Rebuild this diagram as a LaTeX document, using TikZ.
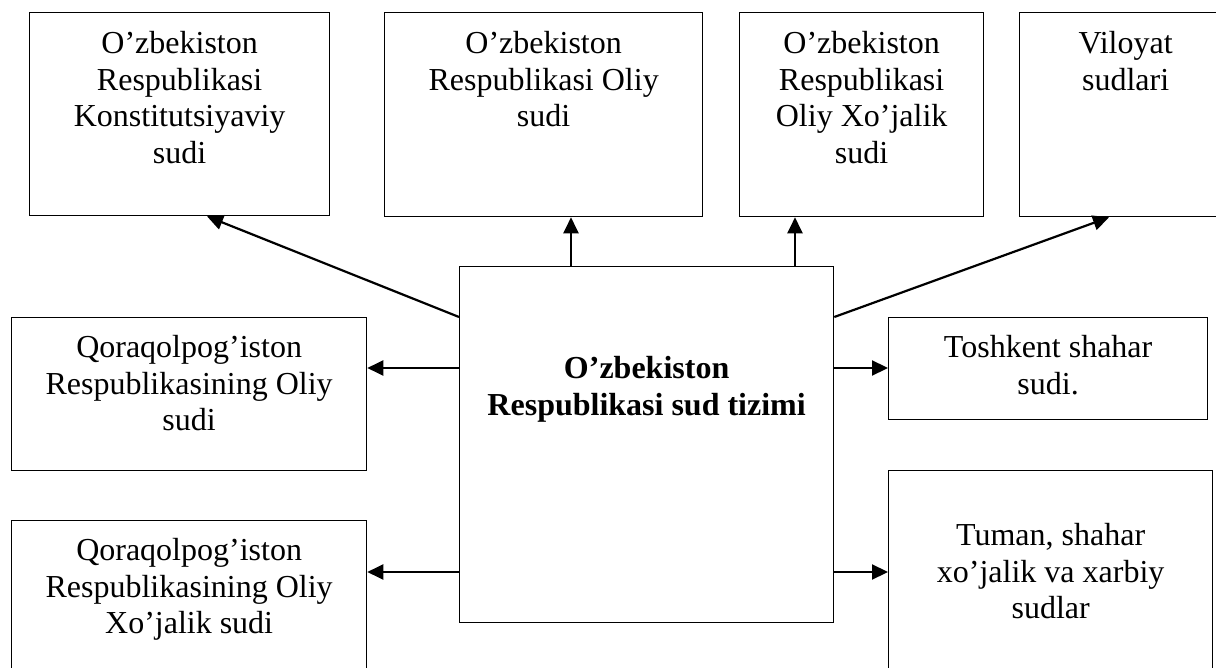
\documentclass[tikz,border=0pt]{standalone}
\usepackage{fontspec}
\setmainfont{Liberation Serif}
\usetikzlibrary{arrows.meta,calc}

\begin{document}
\begin{tikzpicture}[x=1pt,y=-1pt,
    box/.style={draw,line width=1.3pt,rectangle,anchor=north west,inner sep=0pt},
    txt/.style={anchor=north,align=center,inner sep=0pt,font=\fontsize{32}{36.7}\selectfont},
    arr/.style={line width=2.2pt,-{Triangle[length=16pt,width=15pt]}}]
    \useasboundingbox (0,0) rectangle (1216,668);
    % boxes
    \node[box,minimum width=300pt,minimum height=203pt] (kons) at (29,12) {};
    \node[box,minimum width=318pt,minimum height=204pt] (oliy) at (384,12) {};
    \node[box,minimum width=244pt,minimum height=204pt] (xoj) at (739,12) {};
    \node[box,minimum width=212pt,minimum height=204pt] (vil) at (1019,12) {};
    \node[box,minimum width=374pt,minimum height=356pt] (main) at (459,266) {};
    \node[box,minimum width=355pt,minimum height=153pt] (qq1) at (11,317) {};
    \node[box,minimum width=355pt,minimum height=200pt] (qq2) at (11,520) {};
    \node[box,minimum width=319pt,minimum height=102pt] (tosh) at (888,317) {};
    \node[box,minimum width=324pt,minimum height=250pt] (tuman) at (888,470) {};
    % texts
    \node[txt] (kons-t) at ([yshift=-19pt]kons.north) {O’zbekiston\\Respublikasi\\Konstitutsiyaviy\\sudi};
    \node[txt] (oliy-t) at ([yshift=-19pt]oliy.north) {O’zbekiston\\Respublikasi Oliy\\sudi};
    \node[txt] (xoj-t) at ([yshift=-19pt]xoj.north) {O’zbekiston\\Respublikasi\\Oliy Xo’jalik\\sudi};
    \node[txt] (vil-t) at ([yshift=-19pt]vil.north) {Viloyat\\sudlari};
    \node[txt,font=\fontsize{32}{36.7}\selectfont\bfseries] (main-t) at ([yshift=-90pt]main.north) {O’zbekiston\\Respublikasi sud tizimi};
    \node[txt] (qq1-t) at ([yshift=-18pt]qq1.north) {Qoraqolpog’iston\\Respublikasining Oliy\\sudi};
    \node[txt] (qq2-t) at ([yshift=-18pt]qq2.north) {Qoraqolpog’iston\\Respublikasining Oliy\\Xo’jalik sudi};
    \node[txt] (tosh-t) at ([yshift=-18pt]tosh.north) {Toshkent shahar\\sudi.};
    \node[txt] (tuman-t) at ([yshift=-53pt]tuman.north) {Tuman, shahar\\xo’jalik va xarbiy\\sudlar};
    % arrows
    \coordinate (a1) at ($(main.north west)+(0,51)$);
    \coordinate (a2) at ($(main.north west)+(112,0)$);
    \coordinate (a3) at ($(main.north west)+(336,0)$);
    \coordinate (a4) at ($(main.north east)+(0,51)$);
    \coordinate (a5) at ($(main.north west)+(0,102)$);
    \coordinate (a6) at ($(main.north west)+(0,306)$);
    \coordinate (a7) at ($(main.north east)+(0,102)$);
    \coordinate (a8) at ($(main.north east)+(0,306)$);
    \draw[arr] (a1) -- ($(kons.south west)+(178,0)$);
    \draw[arr] (a2) -- (a2 |- oliy.south);
    \draw[arr] (a3) -- (a3 |- xoj.south);
    \draw[arr] (a4) -- ($(vil.south west)+(90,0)$);
    \draw[arr] (a5) -- (a5 -| qq1.east);
    \draw[arr] (a6) -- (a6 -| qq2.east);
    \draw[arr] (a7) -- (a7 -| tosh.west);
    \draw[arr] (a8) -- (a8 -| tuman.west);
\end{tikzpicture}
\end{document}
